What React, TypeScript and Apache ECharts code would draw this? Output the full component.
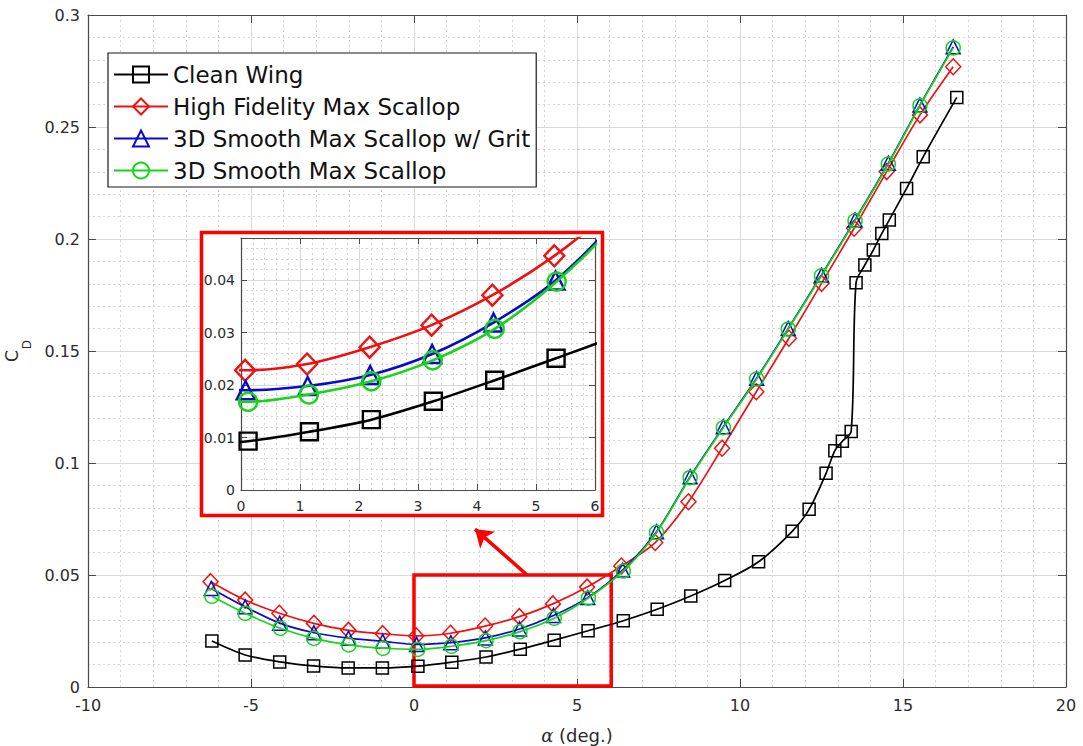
import React, { useEffect, useRef } from "react";
import * as echarts from "echarts";

// ---- Data ----
const alphaClean = [-6.2, -5.18, -4.12, -3.08, -2.02, -0.97, 0.12, 1.16, 2.21, 3.26, 4.3, 5.34, 6.42, 7.46, 8.49, 9.53, 10.57, 11.6, 12.12, 12.64, 12.91, 13.14, 13.41, 13.56, 13.83, 14.09, 14.35, 14.58, 15.11, 15.62, 16.65];
const cdClean = [0.0205, 0.0143, 0.0112, 0.0094, 0.0085, 0.0085, 0.0093, 0.0111, 0.0134, 0.0169, 0.0209, 0.0251, 0.0296, 0.0347, 0.0406, 0.0475, 0.0559, 0.0695, 0.0793, 0.0954, 0.1055, 0.1097, 0.1141, 0.1805, 0.1884, 0.1951, 0.2025, 0.2085, 0.2226, 0.2367, 0.2632];

const alphaHighFidelity = [-6.24, -5.18, -4.13, -3.07, -2.01, -0.96, 0.07, 1.12, 2.18, 3.23, 4.26, 5.31, 6.36, 7.4, 8.42, 9.45, 10.5, 11.5, 12.5, 13.5, 14.5, 15.52, 16.54];
const cdHighFidelity = [0.047, 0.0388, 0.0329, 0.0284, 0.0253, 0.0238, 0.0228, 0.024, 0.0272, 0.0314, 0.0371, 0.0446, 0.054, 0.0645, 0.0827, 0.1066, 0.1318, 0.1557, 0.1802, 0.2048, 0.2301, 0.2554, 0.2769];

const alphaGrit = [-6.22, -5.18, -4.12, -3.07, -2.01, -0.96, 0.08, 1.13, 2.19, 3.24, 4.28, 5.33, 6.4, 7.44, 8.47, 9.49, 10.51, 11.48, 12.5, 13.53, 14.55, 15.52, 16.54];
const cdGrit = [0.044, 0.0358, 0.0285, 0.0242, 0.0218, 0.0204, 0.019, 0.0198, 0.0219, 0.0259, 0.0319, 0.0399, 0.0522, 0.0693, 0.0939, 0.1162, 0.1378, 0.1601, 0.1839, 0.2085, 0.2338, 0.2598, 0.2858];

const alphaSmooth = [-6.2, -5.18, -4.1, -3.07, -2.0, -0.95, 0.12, 1.15, 2.21, 3.25, 4.3, 5.35, 6.42, 7.44, 8.47, 9.49, 10.51, 11.48, 12.5, 13.53, 14.55, 15.52, 16.54];
const cdSmooth = [0.0405, 0.0329, 0.0262, 0.0217, 0.0188, 0.0173, 0.0168, 0.0182, 0.0207, 0.0247, 0.0307, 0.0397, 0.0518, 0.069, 0.0935, 0.1158, 0.1375, 0.1598, 0.1836, 0.2082, 0.2335, 0.2595, 0.2853];

const seriesNames = ["Clean Wing", "High Fidelity Max Scallop", "3D Smooth Max Scallop w/ Grit", "3D Smooth Max Scallop"];

// zoom box / arrow annotation (data coordinates)
const zoomBox = [[0, 0.0005], [6.05, 0.05]];
const arrowFrom = [3.47, 0.05];
const arrowTo = [1.87, 0.0705];

const FONT = "'DejaVu Sans', 'Liberation Sans', sans-serif";
const AXIS_COLOR = "#4a4a4a";
const LABEL_COLOR = "#2b2b2b";
const MAJOR_GRID = "#d9d9d9";
const MINOR_GRID = "#d4d4d4";

const defs = [
  { name: seriesNames[0], x: alphaClean, y: cdClean, color: "#000000", symbol: "rect", size: 12, insetSize: 17 },
  { name: seriesNames[1], x: alphaHighFidelity, y: cdHighFidelity, color: "#ee1111", symbol: "diamond", size: [15, 16], insetSize: [20, 21] },
  { name: seriesNames[2], x: alphaGrit, y: cdGrit, color: "#0a0acc", symbol: "triangle", size: 14, insetSize: 18 },
  { name: seriesNames[3], x: alphaSmooth, y: cdSmooth, color: "#18d418", symbol: "circle", size: 14, insetSize: 18 },
];

function toPairs(x: number[], y: number[]) {
  return x.map((a, i) => [a, y[i]]);
}

export default function App() {
  const ref = useRef<HTMLDivElement>(null);
  useEffect(() => {
    if (!ref.current) return;
    const chart = echarts.init(ref.current, undefined, { renderer: "svg" });

    const mainSeries = defs.map((d, i) => {
      const s: any = {
        type: "line",
        name: d.name,
        xAxisIndex: 0,
        yAxisIndex: 0,
        data: toPairs(d.x, d.y),
        smooth: 0.3,
        symbol: d.symbol,
        symbolSize: d.size,
        showAllSymbol: true,
        lineStyle: { color: d.color, width: 1.7 },
        itemStyle: { color: "rgba(0,0,0,0)", borderColor: d.color, borderWidth: 1.5 },
        emphasis: { disabled: true },
        z: 2 + i * 0.1,
      };
      if (i === 0) {
        s.markArea = {
          silent: true,
          itemStyle: { color: "rgba(0,0,0,0)", borderColor: "#ff0000", borderWidth: 3.5 },
          data: [[{ coord: zoomBox[0] }, { coord: zoomBox[1] }]],
        };
        s.markLine = {
          silent: true,
          symbol: ["none", "arrow"],
          symbolSize: 17,
          label: { show: false },
          lineStyle: { color: "#ff0000", width: 3.5, type: "solid" },
          data: [[{ coord: arrowFrom }, { coord: arrowTo }]],
        };
      }
      return s;
    });

    const insetSeries = defs.map((d, i) => ({
      type: "line",
      name: d.name,
      xAxisIndex: 2,
      yAxisIndex: 2,
      data: toPairs(d.x, d.y),
      smooth: 0.3,
      symbol: d.symbol,
      symbolSize: d.insetSize,
      lineStyle: { color: d.color, width: 2.6 },
      itemStyle: { color: "rgba(0,0,0,0)", borderColor: d.color, borderWidth: 2.4 },
      emphasis: { disabled: true },
      z: 10 + i * 0.1,
    }));

    const mainX = (position: string, labels: boolean) => ({
      type: "value",
      gridIndex: 0,
      position,
      min: -10,
      max: 20,
      interval: 5,
      axisLine: { show: true, onZero: false, lineStyle: { color: AXIS_COLOR, width: 1.2 } },
      axisTick: { show: true, inside: true, length: 8, lineStyle: { color: AXIS_COLOR } },
      minorTick: { show: false, splitNumber: 5 },
      axisLabel: { show: labels, fontFamily: FONT, fontSize: 16, color: LABEL_COLOR, margin: 10 },
      splitLine: { show: labels, lineStyle: { color: MAJOR_GRID, width: 1 } },
      minorSplitLine: { show: labels, lineStyle: { color: MINOR_GRID, width: 1, type: [2, 3] } },
      ...(labels
        ? {
            name: "{a|α} (deg.)",
            nameLocation: "middle",
            nameGap: 39,
            nameTextStyle: {
              fontFamily: FONT,
              fontSize: 18,
              color: LABEL_COLOR,
              rich: { a: { fontFamily: "'DejaVu Serif', serif", fontStyle: "italic", fontSize: 18, color: LABEL_COLOR } },
            },
          }
        : {}),
    });

    const mainY = (position: string, labels: boolean) => ({
      type: "value",
      gridIndex: 0,
      position,
      min: 0,
      max: 0.3,
      interval: 0.05,
      axisLine: { show: true, onZero: false, lineStyle: { color: AXIS_COLOR, width: 1.2 } },
      axisTick: { show: true, inside: true, length: 8, lineStyle: { color: AXIS_COLOR } },
      minorTick: { show: false, splitNumber: 5 },
      axisLabel: { show: labels, fontFamily: FONT, fontSize: 16, color: LABEL_COLOR, margin: 8 },
      splitLine: { show: labels, lineStyle: { color: MAJOR_GRID, width: 1 } },
      minorSplitLine: { show: labels, lineStyle: { color: MINOR_GRID, width: 1, type: [2, 3] } },
      ...(labels
        ? {
            name: "{c|C}{d|D}",
            nameLocation: "middle",
            nameGap: 54,
            nameRotate: 90,
            nameTextStyle: {
              fontFamily: FONT,
              color: LABEL_COLOR,
              rich: {
                c: { fontFamily: FONT, fontSize: 17, color: LABEL_COLOR, verticalAlign: "top" },
                d: { fontFamily: FONT, fontSize: 12, color: LABEL_COLOR, verticalAlign: "top", padding: [18, 0, 0, 1] },
              },
            },
          }
        : {}),
    });

    const insetX = (position: string, labels: boolean) => ({
      type: "value",
      gridIndex: 1,
      position,
      min: 0,
      max: 6,
      interval: 1,
      z: 8,
      axisLine: { show: true, onZero: false, lineStyle: { color: AXIS_COLOR, width: 1.2 } },
      axisTick: { show: true, inside: true, length: 6, lineStyle: { color: AXIS_COLOR } },
      minorTick: { show: false, splitNumber: 5 },
      axisLabel: { show: labels, fontFamily: FONT, fontSize: 14, color: LABEL_COLOR, margin: 9 },
      splitLine: { show: labels, lineStyle: { color: MAJOR_GRID, width: 1 } },
      minorSplitLine: { show: labels, lineStyle: { color: MINOR_GRID, width: 1, type: [2, 3] } },
    });

    const insetY = (position: string, labels: boolean) => ({
      type: "value",
      gridIndex: 1,
      position,
      min: 0,
      max: 0.048,
      interval: 0.01,
      z: 8,
      axisLine: { show: true, onZero: false, lineStyle: { color: AXIS_COLOR, width: 1.2 } },
      axisTick: { show: true, inside: true, length: 6, lineStyle: { color: AXIS_COLOR } },
      minorTick: { show: false, splitNumber: 5 },
      axisLabel: { show: labels, showMaxLabel: false, fontFamily: FONT, fontSize: 14, color: LABEL_COLOR, margin: 6 },
      splitLine: { show: labels, lineStyle: { color: MAJOR_GRID, width: 1 } },
      minorSplitLine: { show: labels, lineStyle: { color: MINOR_GRID, width: 1, type: [2, 3] } },
    });

    const option: any = {
      animation: false,
      backgroundColor: "#ffffff",
      grid: [
        { left: 88, right: 17, top: 15, bottom: 59, containLabel: false, outerBoundsMode: "none" },
        { left: 241, top: 238, width: 354, height: 252, containLabel: false, outerBoundsMode: "none", z: 8 },
      ],
      xAxis: [mainX("bottom", true), mainX("top", false), insetX("bottom", true), insetX("top", false)],
      yAxis: [mainY("left", true), mainY("right", false), insetY("left", true), insetY("right", false)],
      legend: {
        data: seriesNames,
        orient: "vertical",
        left: 108,
        top: 53,
        itemWidth: 54,
        itemHeight: 20,
        itemGap: 9,
        padding: [10, 6, 5, 5],
        backgroundColor: "#ffffff",
        borderColor: "#1a1a1a",
        borderWidth: 1.2,
        selectedMode: false,
        textStyle: { fontFamily: FONT, fontSize: 23, color: "#111111" },
        z: 6,
      },
      graphic: [
        {
          type: "rect",
          z: 5,
          silent: true,
          shape: { x: 201.5, y: 232.5, width: 401, height: 283 },
          style: { fill: "#ffffff", stroke: "#ff0000", lineWidth: 3.5 },
        },
      ],
      series: [...mainSeries, ...insetSeries],
    };

    chart.setOption(option);
    return () => chart.dispose();
  }, []);

  return (
    <div
      ref={ref}
      style={{ position: "fixed", left: 0, top: 0, width: 1083, height: 746, background: "#fff" }}
    />
  );
}
